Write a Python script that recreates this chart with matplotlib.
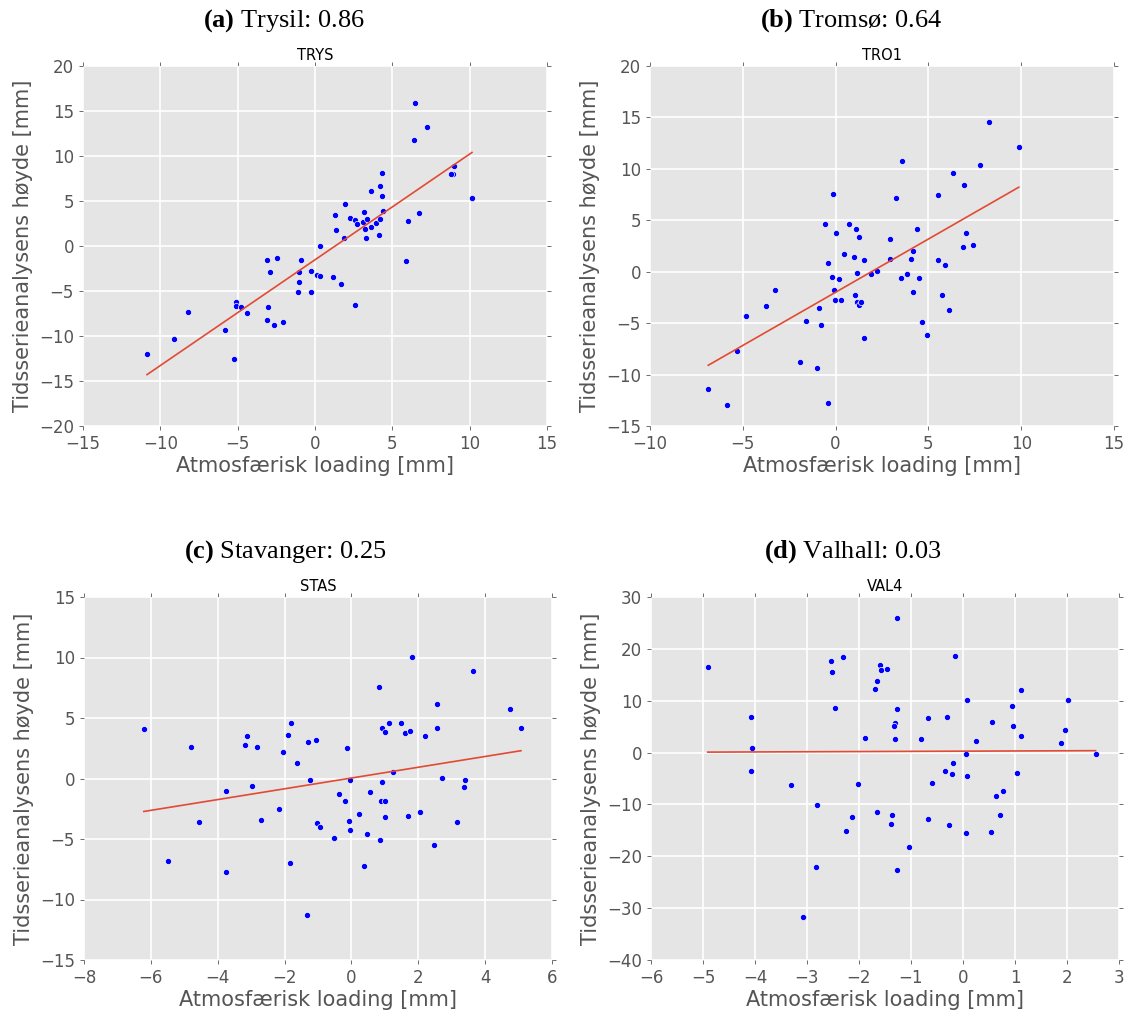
import numpy as np
import matplotlib
matplotlib.use("Agg")
from matplotlib import pyplot as plt

plt.rcParams['mathtext.fontset'] = 'custom'
plt.rcParams['mathtext.rm'] = 'Liberation Serif'
plt.rcParams['mathtext.bf'] = 'Liberation Serif:bold'

# (a) Trysil - TRYS
trys_x = [-10.86, -9.12, -8.23, -5.84, -5.24, -5.11, -5.09, -4.81, -4.40, -3.13,
          -2.46, -2.93, -3.04, -3.13, -2.65, -2.05, -1.12, -1.03, -1.03, -0.93,
          -0.28, -0.24, 0.15, 0.34, 0.32, 1.16, 1.68, 2.61, 1.29, 1.34,
          1.90, 1.96, 2.26, 2.56, 2.72, 3.17, 3.10, 3.38, 3.25, 3.30,
          3.62, 3.94, 3.62, 4.16, 4.20, 4.18, 4.31, 4.35, 4.40, 5.88,
          5.99, 6.70, 6.38, 6.49, 7.24, 8.99, 8.90, 8.79, 10.15]
trys_y = [-12.04, -10.37, -7.37, -9.37, -12.52, -6.26, -6.67, -6.78, -7.48, -1.56,
          -1.37, -2.93, -6.81, -8.26, -8.78, -8.41, -5.07, -2.93, -3.96, -1.56,
          -2.81, -5.11, -3.26, -3.37, -0.04, -3.44, -4.22, -6.59, 3.41, 1.74,
          0.93, 4.70, 3.11, 2.85, 2.41, 3.74, 2.70, 3.00, 1.85, 0.85,
          2.15, 2.59, 6.11, 1.19, 3.00, 6.67, 8.15, 5.59, 3.93, -1.67,
          2.78, 3.70, 11.74, 15.93, 13.22, 8.93, 7.96, 8.04, 5.30]

# (b) Tromsø - TRO1
tro1_x = [-6.86, -5.87, -5.32, -4.83, -3.73, -3.24, -1.93, -1.62, -1.01, -0.90,
          -0.79, -0.58, -0.41, -0.40, -0.22, -0.14, -0.11, -0.04, 0.04, 0.16,
          0.31, 0.45, 0.70, 0.97, 1.10, 1.06, 1.17, 1.14, 1.28, 1.24,
          1.37, 1.51, 1.55, 1.91, 2.25, 2.94, 2.95, 3.23, 3.59, 3.53,
          3.84, 4.07, 4.18, 4.16, 4.38, 4.50, 4.67, 4.94, 5.50, 5.51,
          5.71, 5.87, 6.13, 6.32, 6.88, 6.94, 7.03, 7.39, 7.78, 8.27, 9.87]
tro1_y = [-11.40, -12.96, -7.68, -4.31, -3.37, -1.81, -8.75, -4.79, -9.33, -3.53,
          -5.22, 4.60, 0.87, -12.73, -0.55, 7.52, -1.81, -2.75, 3.73, -0.75,
          -2.79, 1.72, 4.60, 1.43, 4.11, -2.27, -0.13, -2.92, 3.40, -3.21,
          -2.92, 1.17, -6.41, -0.19, 0.03, 3.14, 1.26, 7.19, 10.79, -0.58,
          -0.26, 1.26, 2.01, -2.01, 4.11, -0.58, -4.86, -6.15, 7.45, 1.13,
          -2.30, 0.62, -3.76, 9.59, 2.40, 8.39, 3.79, 2.56, 10.37, 14.51, 12.12]

# (c) Stavanger - STAS
stas_x = [-6.21, -5.48, -4.80, -4.56, -3.75, -3.74, -3.18, -3.13, -2.96, -2.81,
          -2.70, -2.18, -2.06, -1.90, -1.82, -1.83, -1.62, -1.34, -1.31, -1.24,
          -1.06, -1.03, -0.95, -0.53, -0.36, -0.19, -0.14, -0.07, -0.05, -0.04,
          0.23, 0.38, 0.48, 0.55, 0.83, 0.85, 0.87, 0.92, 0.92, 1.00,
          1.00, 1.01, 1.13, 1.23, 1.47, 1.59, 1.68, 1.75, 1.81, 2.06,
          2.20, 2.46, 2.55, 2.57, 2.72, 3.17, 3.37, 3.39, 3.63, 4.74, 5.07]
stas_y = [4.08, -6.80, 2.59, -3.61, -1.02, -7.69, 2.73, 3.55, -0.58, 2.64,
          -3.39, -2.53, 2.20, 3.61, 4.60, -7.00, 1.24, -11.27, 3.03, -0.14,
          3.22, -3.69, -3.99, -4.93, -1.32, -1.82, 2.48, -3.50, -0.14, -4.27,
          -2.92, -7.25, -4.55, -1.13, 7.58, -5.12, -1.87, -0.25, 4.19, 3.83,
          -3.17, -1.90, 4.60, 0.52, 4.57, 3.77, -3.14, 3.91, 10.03, -2.78,
          3.50, -5.51, 6.17, 4.19, 0.08, -3.61, -0.72, -0.11, 8.90, 5.76, 4.16]

# (d) Valhall - VAL4
val4_x = [-4.91, -4.07, -4.05, -4.08, -3.30, -3.07, -2.82, -2.80, -2.54, -2.52,
          -2.46, -2.30, -2.25, -2.14, -2.01, -1.88, -1.70, -1.66, -1.65, -1.59,
          -1.57, -1.47, -1.38, -1.36, -1.31, -1.33, -1.31, -1.27, -1.27, -1.27,
          -1.04, -0.81, -0.68, -0.67, -0.60, -0.35, -0.31, -0.27, -0.22, -0.20,
          -0.15, 0.05, 0.08, 0.08, 0.05, 0.25, 0.54, 0.56, 0.63, 0.71,
          0.76, 0.94, 0.96, 1.03, 1.11, 1.11, 1.88, 1.96, 2.01, 2.55]
val4_y = [16.47, 6.89, 0.84, -3.60, -6.24, -31.66, -22.01, -10.17, 17.57, 15.51,
          8.62, 18.40, -15.12, -12.36, -5.98, 2.77, 12.29, -11.39, 13.84, 16.86,
          15.96, 16.15, -13.84, -11.97, 5.79, 5.21, 2.64, 8.37, 25.87, -22.72,
          -18.15, 2.64, -12.74, 6.76, -5.79, -3.54, 6.95, -14.03, -4.18, -1.93,
          18.66, -0.32, 10.23, -4.57, -15.57, 2.32, -15.32, 5.92, -8.37, -12.03,
          -7.46, 8.94, 5.21, -3.93, 12.16, 3.28, 1.87, 4.31, 10.23, -0.32]

captions = [r"$\mathbf{(a)}$ Trysil: 0.86", r"$\mathbf{(b)}$ Tromsø: 0.64",
            r"$\mathbf{(c)}$ Stavanger: 0.25", r"$\mathbf{(d)}$ Valhall: 0.03"]
stations = ["TRYS", "TRO1", "STAS", "VAL4"]
xlims = [(-15, 15), (-10, 15), (-8, 6), (-6, 3)]
ylims = [(-20, 20), (-15, 20), (-15, 15), (-40, 30)]
xs = [trys_x, tro1_x, stas_x, val4_x]
ys = [trys_y, tro1_y, stas_y, val4_y]

W, H = 1132., 1016.
# axes boxes in pixels: left, right, top, bottom
boxes = [(83, 547, 66, 426), (650, 1114, 66, 426),
         (84, 552, 597, 960), (651, 1119, 597, 960)]
cap_pos = [(284, 27), (851, 27), (285, 558), (853, 558)]

fig = plt.figure(figsize=(11.32, 10.16), dpi=100)

for i in range(4):
    l, r, t, b = boxes[i]
    ax = fig.add_axes([l/W, 1 - b/H, (r-l)/W, (b-t)/H])
    ax.set_facecolor('#E5E5E5')
    for s in ax.spines.values():
        s.set_visible(False)
    ax.grid(True, color='white', linewidth=1.2)
    ax.set_axisbelow(True)

    x = np.array(xs[i])
    y = np.array(ys[i])
    ax.scatter(x, y, s=20, c='blue', edgecolors='white', linewidths=0.5, zorder=3)

    p = np.polyfit(x, y, 1)
    xl = np.array([x.min(), x.max()])
    ax.plot(xl, np.polyval(p, xl), color='#E24A33', linewidth=1.2, zorder=4)

    ax.set_xlim(xlims[i])
    ax.set_ylim(ylims[i])
    ax.tick_params(direction='out', length=3, width=0.6, color='#555555',
                   labelcolor='#555555', labelsize=12, top=True, right=True)
    ax.set_xlabel('Atmosfærisk loading [mm]', fontsize=15, color='#555555', labelpad=2)
    ax.set_ylabel('Tidsserieanalysens høyde [mm]', fontsize=15, color='#555555', labelpad=4)
    ax.set_title(stations[i], fontsize=10.5, pad=4)

    cx, cy = cap_pos[i]
    fig.text(cx/W, 1 - cy/H, captions[i], ha='center', va='baseline',
             fontsize=19, family='Liberation Serif')

fig.savefig('out.png', dpi=100)
